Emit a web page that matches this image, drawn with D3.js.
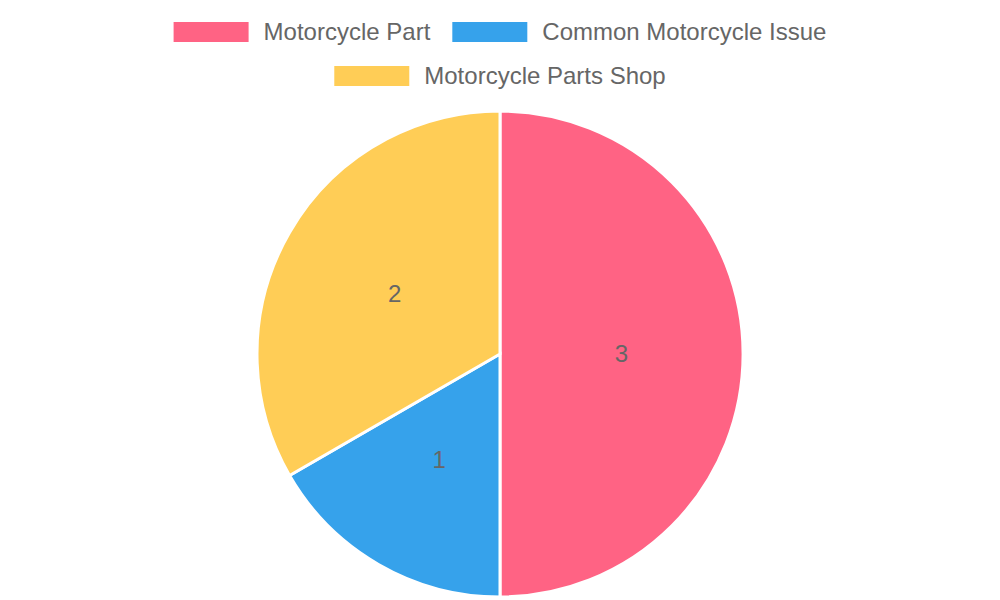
<!DOCTYPE html>
<html lang="en">
<head>
  <meta charset="UTF-8" />
  <title>Motorcycle pie</title>
  <script src="https://d3js.org/d3.v7.min.js"></script>
  <style>
    body { margin: 0; background: #fff; font-family: 'Liberation Sans', Arial, sans-serif; }
    svg { display: block; }
  </style>
</head>
<body>
  <svg width="1000" height="600"></svg>
  <script>
    const labels = ["Motorcycle Part", "Common Motorcycle Issue", "Motorcycle Parts Shop"];
    const values = [3, 1, 2];
    const colors = ["#ff6384", "#36a2eb", "#ffcd56"];

    const width = 1000, height = 600;
    const svg = d3.select("svg");

    // legend, laid out in centred rows like the original
    const boxW = 75, boxH = 20, gapText = 15, gapItem = 22, fontSize = 24;
    const rows = [[0, 1], [2]];
    const rowY = [32, 76];
    const measure = svg.append("text").attr("font-size", fontSize);
    const textW = labels.map(l => { measure.text(l); return measure.node().getComputedTextLength(); });
    measure.remove();

    const legend = svg.append("g");
    rows.forEach((row, ri) => {
      const total = d3.sum(row, i => boxW + gapText + textW[i]) + gapItem * (row.length - 1);
      let x = (width - total) / 2;
      row.forEach(i => {
        legend.append("rect")
          .attr("x", x).attr("y", rowY[ri] - boxH / 2)
          .attr("width", boxW).attr("height", boxH)
          .attr("fill", colors[i]);
        legend.append("text")
          .attr("x", x + boxW + gapText).attr("y", rowY[ri])
          .attr("dy", "0.35em")
          .attr("font-size", fontSize)
          .attr("fill", "#666")
          .text(labels[i]);
        x += boxW + gapText + textW[i] + gapItem;
      });
    });

    // pie
    const cx = 500, cy = 354, r = 243;
    const pie = d3.pie().sort(null).value(d => d)(values);
    const arc = d3.arc().innerRadius(0).outerRadius(r);
    const labelArc = d3.arc().innerRadius(r / 2).outerRadius(r / 2);

    const g = svg.append("g").attr("transform", `translate(${cx},${cy})`);
    g.selectAll("path").data(pie).join("path")
      .attr("d", arc)
      .attr("fill", (d, i) => colors[i])
      .attr("stroke", "#fff")
      .attr("stroke-width", 3);

    g.selectAll("text.val").data(pie).join("text")
      .attr("class", "val")
      .attr("transform", d => `translate(${labelArc.centroid(d)})`)
      .attr("text-anchor", "middle")
      .attr("dy", "0.35em")
      .attr("font-size", 24)
      .attr("fill", "#666")
      .text(d => d.data);
  </script>
</body>
</html>
